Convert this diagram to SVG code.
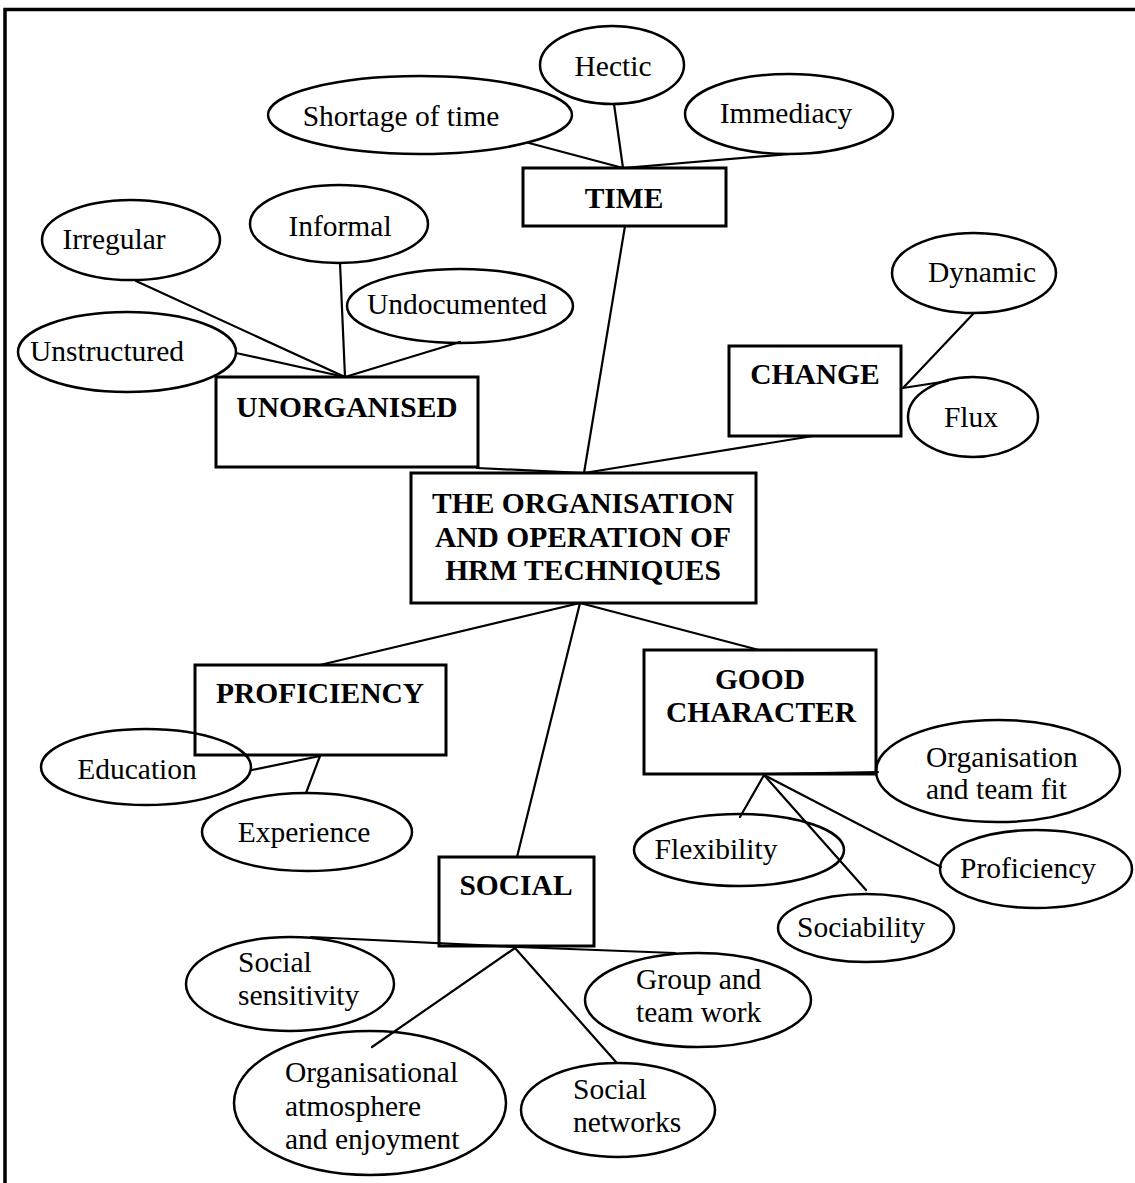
<svg xmlns="http://www.w3.org/2000/svg" width="1135" height="1183" viewBox="0 0 1135 1183">
  <style>
    .frame { fill: none; stroke: #000; stroke-width: 3.5; }
    .box { fill: none; stroke: #000; stroke-width: 3; }
    .oval { fill: none; stroke: #000; stroke-width: 2.5; }
    .link { stroke: #000; stroke-width: 2.2; fill: none; stroke-linecap: round; }
    text { font-family: "Liberation Serif", "Times New Roman", serif; fill: #000; }
    .lbl { font-size: 29.5px; text-anchor: middle; dominant-baseline: central; }
    .lbl-l { font-size: 29.5px; dominant-baseline: central; }
    .head { font-size: 29.5px; font-weight: bold; text-anchor: middle; dominant-baseline: central; }
  </style>

  <rect width="1135" height="1183" fill="#fff"/>
  <path class="frame" d="M5,1183 V9.5 H1135"/>

  <!-- connectors -->
  <g id="connectors">
    <!-- TIME cluster -->
    <line class="link" x1="529" y1="143" x2="623" y2="168"/>
    <line class="link" x1="614" y1="104" x2="623" y2="168"/>
    <line class="link" x1="790" y1="154" x2="623" y2="168"/>
    <line class="link" x1="625" y1="226" x2="584" y2="473"/>
    <!-- UNORGANISED cluster -->
    <line class="link" x1="136" y1="281" x2="345" y2="377"/>
    <line class="link" x1="340" y1="263" x2="345" y2="377"/>
    <line class="link" x1="236" y1="353" x2="345" y2="377"/>
    <line class="link" x1="460" y1="342" x2="345" y2="377"/>
    <line class="link" x1="477" y1="468" x2="584" y2="473"/>
    <!-- CHANGE cluster -->
    <line class="link" x1="974" y1="313" x2="903" y2="388"/>
    <line class="link" x1="903" y1="388" x2="948" y2="381"/>
    <line class="link" x1="813" y1="436" x2="584" y2="473"/>
    <!-- lower branches -->
    <line class="link" x1="580" y1="603" x2="320" y2="665"/>
    <line class="link" x1="580" y1="603" x2="759" y2="650"/>
    <line class="link" x1="580" y1="603" x2="517" y2="857"/>
    <!-- PROFICIENCY cluster -->
    <line class="link" x1="320" y1="756" x2="252" y2="770"/>
    <line class="link" x1="320" y1="756" x2="306" y2="793"/>
    <!-- GOOD CHARACTER cluster -->
    <line class="link" x1="764" y1="774" x2="878" y2="772"/>
    <line class="link" x1="764" y1="775" x2="740" y2="817"/>
    <line class="link" x1="764" y1="775" x2="866" y2="890"/>
    <line class="link" x1="764" y1="775" x2="941" y2="867"/>
    <!-- SOCIAL cluster -->
    <line class="link" x1="311" y1="937" x2="517" y2="947"/>
    <line class="link" x1="517" y1="947" x2="675" y2="953"/>
    <line class="link" x1="515" y1="948" x2="372" y2="1047"/>
    <line class="link" x1="515" y1="948" x2="616" y2="1062"/>
  </g>

  <!-- hub -->
  <g id="hub">
    <rect class="box" x="411" y="473" width="345" height="130"/>
    <text class="head" x="583" y="503">THE ORGANISATION</text>
    <text class="head" x="583" y="537">AND OPERATION OF</text>
    <text class="head" x="583" y="570">HRM TECHNIQUES</text>
  </g>

  <!-- TIME -->
  <g id="time">
    <rect class="box" x="523" y="168" width="203" height="58"/>
    <text class="head" x="624" y="198">TIME</text>
  </g>
  <g id="shortage-of-time">
    <ellipse class="oval" cx="420" cy="115" rx="152" ry="39"/>
    <text class="lbl" x="401" y="116">Shortage of time</text>
  </g>
  <g id="hectic">
    <ellipse class="oval" cx="612" cy="65" rx="72" ry="39"/>
    <text class="lbl" x="613" y="66">Hectic</text>
  </g>
  <g id="immediacy">
    <ellipse class="oval" cx="789" cy="114" rx="104" ry="40"/>
    <text class="lbl" x="786" y="113">Immediacy</text>
  </g>

  <!-- UNORGANISED -->
  <g id="unorganised">
    <rect class="box" x="216" y="377" width="262" height="90"/>
    <text class="head" x="347" y="407">UNORGANISED</text>
  </g>
  <g id="irregular">
    <ellipse class="oval" cx="131" cy="240" rx="89" ry="40"/>
    <text class="lbl" x="114" y="239">Irregular</text>
  </g>
  <g id="informal">
    <ellipse class="oval" cx="339" cy="224" rx="89" ry="39"/>
    <text class="lbl" x="340" y="226">Informal</text>
  </g>
  <g id="undocumented">
    <ellipse class="oval" cx="460" cy="306" rx="113" ry="37"/>
    <text class="lbl" x="457" y="304">Undocumented</text>
  </g>
  <g id="unstructured">
    <ellipse class="oval" cx="127" cy="352" rx="109" ry="40"/>
    <text class="lbl" x="107" y="351">Unstructured</text>
  </g>

  <!-- CHANGE -->
  <g id="change">
    <rect class="box" x="729" y="346" width="172" height="90"/>
    <text class="head" x="815" y="374">CHANGE</text>
  </g>
  <g id="dynamic">
    <ellipse class="oval" cx="974" cy="273" rx="82" ry="40"/>
    <text class="lbl" x="982" y="272">Dynamic</text>
  </g>
  <g id="flux">
    <ellipse class="oval" cx="973" cy="417" rx="65" ry="40"/>
    <text class="lbl" x="971" y="417">Flux</text>
  </g>

  <!-- PROFICIENCY -->
  <g id="proficiency">
    <rect class="box" x="195" y="665" width="251" height="90"/>
    <text class="head" x="320" y="693">PROFICIENCY</text>
  </g>
  <g id="education">
    <ellipse class="oval" cx="146" cy="767" rx="105" ry="38"/>
    <text class="lbl" x="137" y="769">Education</text>
  </g>
  <g id="experience">
    <ellipse class="oval" cx="307" cy="832" rx="105" ry="39"/>
    <text class="lbl" x="304" y="832">Experience</text>
  </g>

  <!-- GOOD CHARACTER -->
  <g id="good-character">
    <rect class="box" x="644" y="650" width="232" height="124"/>
    <text class="head" x="760" y="679">GOOD</text>
    <text class="head" x="761" y="712">CHARACTER</text>
  </g>
  <g id="organisation-team-fit">
    <ellipse class="oval" cx="998" cy="771" rx="122" ry="51"/>
    <text class="lbl-l" x="926" y="757">Organisation</text>
    <text class="lbl-l" x="926" y="789">and team fit</text>
  </g>
  <g id="flexibility">
    <ellipse class="oval" cx="739" cy="850" rx="105" ry="36"/>
    <text class="lbl" x="716" y="849">Flexibility</text>
  </g>
  <g id="proficiency-trait">
    <ellipse class="oval" cx="1036" cy="869" rx="96" ry="39"/>
    <text class="lbl" x="1028" y="868">Proficiency</text>
  </g>
  <g id="sociability">
    <ellipse class="oval" cx="866" cy="928" rx="88" ry="34"/>
    <text class="lbl" x="861" y="927">Sociability</text>
  </g>

  <!-- SOCIAL -->
  <g id="social">
    <rect class="box" x="439" y="857" width="155" height="89"/>
    <text class="head" x="516" y="885">SOCIAL</text>
  </g>
  <g id="social-sensitivity">
    <ellipse class="oval" cx="290" cy="984" rx="104" ry="47"/>
    <text class="lbl-l" x="238" y="962">Social</text>
    <text class="lbl-l" x="238" y="995">sensitivity</text>
  </g>
  <g id="group-team-work">
    <ellipse class="oval" cx="698" cy="1000" rx="113" ry="47"/>
    <text class="lbl-l" x="636" y="979">Group and</text>
    <text class="lbl-l" x="636" y="1012">team work</text>
  </g>
  <g id="organisational-atmosphere">
    <ellipse class="oval" cx="370" cy="1103" rx="136" ry="72"/>
    <text class="lbl-l" x="285" y="1072">Organisational</text>
    <text class="lbl-l" x="285" y="1106">atmosphere</text>
    <text class="lbl-l" x="285" y="1139">and enjoyment</text>
  </g>
  <g id="social-networks">
    <ellipse class="oval" cx="618" cy="1110" rx="97" ry="47"/>
    <text class="lbl-l" x="573" y="1089">Social</text>
    <text class="lbl-l" x="573" y="1122">networks</text>
  </g>
</svg>
